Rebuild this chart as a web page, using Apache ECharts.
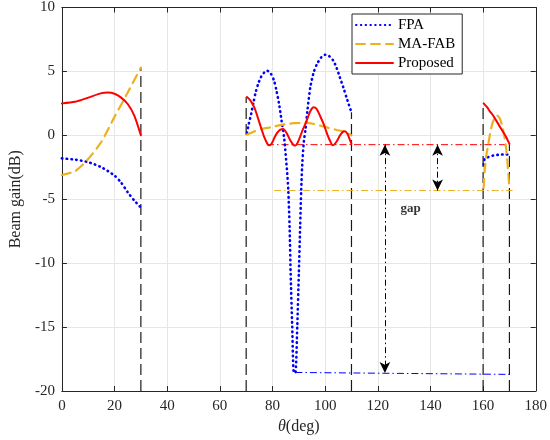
<!DOCTYPE html>
<html>
<head>
<meta charset="utf-8">
<script src="https://cdn.jsdelivr.net/npm/echarts@6/dist/echarts.min.js"></script>
<style>
  html, body { margin: 0; padding: 0; background: #fff; }
  #chart { width: 550px; height: 440px; }
</style>
</head>
<body>
<div id="chart"></div>
<script>
// Axis ranges: [min, max, step]
const xRange = [0, 180, 20];
const yRange = [-20, 10, 5];

// Beam gain (dB) versus angle, three angular sectors per scheme
const fpaSec1 = [[0,-1.8],[5,-1.9],[10,-2.1],[15,-2.5],[20,-3.15],[22.5,-3.7],[25,-4.45],[27.5,-5.1],[30,-5.65]];
const fpaSec2 = [[70.3,0.2],[71,0.9],[71.9,1.67],[72.8,2.6],[73.7,3.45],[74.6,4.05],[75.6,4.55],[76.8,4.9],[78,5.05],
  [79.3,4.85],[80.6,4.27],[81.5,3.5],[82.5,2.45],[83.4,1.2],[84.4,-0.16],[85,-1.5],[85.6,-3.0],[86,-4.3],[86.5,-7.2],
  [86.9,-10.8],[87.5,-15],[88.1,-18.55],[88.7,-18.55],[89.4,-15],[90,-10.8],[90.5,-7.2],[90.9,-4.3],[91.3,-2.3],
  [91.9,-0.5],[92.5,0.4],[93.3,2.0],[94.4,3.8],[95.6,4.9],[96.9,5.58],[98.5,6.1],[100,6.3],[101.5,6.2],[103.1,5.84],
  [104.4,5.25],[105.6,4.53],[106.9,3.75],[108.1,2.97],[109,2.4],[110,1.8]];
const fpaSec3 = [[160.2,-2.3],[160.6,-1.85],[162,-1.7],[164,-1.57],[166,-1.52],[168,-1.5],[170,-1.5]];

const mafSec1 = [[0,-3.1],[5,-2.8],[10,-1.85],[15,-0.5],[20,1.45],[25,3.35],[30,5.3]];
const mafSec2 = [[70.3,0.05],[73,0.3],[76,0.5],[79.4,0.63],[82.5,0.78],[85.6,0.89],[88,0.95],[91,0.97],[93.1,0.98],
  [95.5,0.9],[98.1,0.76],[101,0.6],[104.4,0.42],[106.9,0.31],[108.5,0.18],[110,0.0]];
const mafSec3 = [[160.2,-4.1],[160.6,-2.8],[161.2,-1.6],[161.8,-0.9],[163.1,0.6],[164.2,1.3],[165.3,1.55],[166.4,1.3],
  [167.5,0.55],[168.7,-0.94],[169.4,-2.5],[170,-4.2]];

const propSec1 = [[0,2.5],[5,2.62],[10,2.95],[15,3.3],[17.5,3.36],[20,3.25],[22.5,2.95],[25,2.45],[27.5,1.55],[30,0]];
const propSec2 = [[70.3,3.0],[71.5,2.75],[73.1,2.19],[74.4,1.4],[75.6,0.63],[76.8,-0.1],[78.1,-0.67],[78.8,-0.78],
  [79.8,-0.6],[80.8,-0.15],[81.9,0.23],[83,0.45],[84.1,0.5],[85.3,0.2],[86.8,-0.41],[88,-0.75],[88.7,-0.8],[89.6,-0.55],
  [90.6,-0.05],[91.5,0.45],[92.5,0.89],[93.5,1.45],[94.5,1.95],[95.6,2.19],[96.8,2.05],[98,1.55],[99.4,0.89],[100.6,0.2],
  [101.8,-0.4],[102.9,-0.78],[104.3,-0.5],[105.6,-0.02],[106.6,0.25],[107.5,0.31],[108.5,0.1],[109.3,-0.3],[110,-0.67]];
const propSec3 = [[160.2,2.5],[161.5,2.2],[162.5,1.9],[163.8,1.55],[165,1.15],[166.3,0.7],[167.5,0.3],[168.8,-0.15],[170,-0.67]];

// Minimum gain levels across the covered sectors
const propMin = [[77.9,-0.73],[170.2,-0.73]];
const mafMin  = [[80.6,-4.32],[171.2,-4.32]];
const fpaMin  = [[88.7,-18.55],[170,-18.7]];

// Sector edges: angle and top of the boundary line
const edgeX   = [30, 70, 110, 160, 170];
const edgeTop = [5.3, 3.0, 1.8, 2.5, -0.67];

// Gap arrows
const gapX      = [122.7, 142.7];
const gapTop    = [-0.73, -0.73];
const gapBottom = [-18.6, -4.32];
const gapLabel  = [132.5, -5.7];

const FONT = "'Liberation Serif', 'Times New Roman', serif";
const INK = '#262626';
const BLUE = '#0000ff', GOLD = '#EDB120', RED = '#ff0000';

function curve(name, data, color, type, width, z) {
  return {
    type: 'line', name, data, z,
    symbol: 'none', showSymbol: false, smooth: 0.25,
    lineStyle: { color, type, width, cap: 'round' },
    itemStyle: { color }, silent: true
  };
}
function plain(data, color, type, width, z) {
  return {
    type: 'line', data, z, symbol: 'none', showSymbol: false,
    lineStyle: { color, type, width }, silent: true
  };
}

const series = [];
[fpaSec1, fpaSec2, fpaSec3].forEach(d => series.push(curve('FPA', d, BLUE, [0.5, 4.3], 2.6, 3)));
[mafSec1, mafSec2, mafSec3].forEach(d => series.push(curve('MA-FAB', d, GOLD, [9, 6], 2.2, 4)));
[propSec1, propSec2, propSec3].forEach(d => series.push(curve('Proposed', d, RED, 'solid', 2, 5)));

edgeX.forEach((x, i) => series.push(plain([[x, yRange[0]], [x, edgeTop[i]]], '#1a1a1a', [11, 5], 1.2, 2)));

series.push(plain(propMin, RED, [7, 3, 1.5, 3], 1, 2));
series.push(plain(mafMin, GOLD, [7, 3, 1.5, 3], 1, 2));
series.push(plain(fpaMin, BLUE, [7, 3, 1.5, 3], 1, 2));

series.push({
  type: 'line', data: [], silent: true, z: 6,
  markLine: {
    silent: true, animation: false,
    symbol: ['arrow', 'arrow'], symbolSize: [8, 11],
    label: { show: false },
    lineStyle: { color: '#000', type: [6, 3, 1.5, 3], width: 1 },
    data: gapX.map((x, i) => [{ coord: [x, gapTop[i]] }, { coord: [x, gapBottom[i]] }])
  }
});

series.push({
  type: 'scatter', data: [gapLabel], symbolSize: 0, silent: true, z: 6,
  label: {
    show: true, position: 'inside', formatter: 'gap',
    fontFamily: FONT, fontWeight: 'bold', fontSize: 13, color: '#000'
  }
});

const axisCommon = {
  axisLine: { show: true, onZero: false, lineStyle: { color: INK, width: 1 } },
  axisTick: { show: true, inside: true, length: 5, lineStyle: { color: INK } },
};

const option = {
  animation: false,
  backgroundColor: '#fff',
  grid: { left: 57, right: 13, top: 7, bottom: 49, containLabel: false },
  legend: {
    orient: 'vertical', left: 352, top: 14,
    data: ['FPA', 'MA-FAB', 'Proposed'],
    itemWidth: 37, itemHeight: 12, itemGap: 3,
    padding: [3, 7, 3, 3],
    backgroundColor: '#fff', borderColor: INK, borderWidth: 1, borderRadius: 0,
    itemStyle: { opacity: 0 },
    textStyle: { fontFamily: FONT, fontSize: 15, color: '#000', lineHeight: 16 },
    selectedMode: false
  },
  xAxis: [
    Object.assign({
      type: 'value', min: xRange[0], max: xRange[1], interval: xRange[2],
      name: '{i|θ}(deg)', nameLocation: 'middle', nameGap: 27,
      nameTextStyle: { fontFamily: FONT, fontSize: 16, color: INK,
        rich: { i: { fontFamily: FONT, fontSize: 16, fontStyle: 'italic', color: INK } } },
      axisLabel: { fontFamily: FONT, fontSize: 15, color: INK, margin: 8 },
      splitLine: { show: true, lineStyle: { color: '#e6e6e6', width: 1 } }
    }, axisCommon),
    Object.assign({
      type: 'value', position: 'top', min: xRange[0], max: xRange[1], interval: xRange[2],
      axisLabel: { show: false }, splitLine: { show: false }
    }, axisCommon)
  ],
  yAxis: [
    Object.assign({
      type: 'value', min: yRange[0], max: yRange[1], interval: yRange[2],
      name: 'Beam gain(dB)', nameLocation: 'middle', nameGap: 33,
      nameTextStyle: { fontFamily: FONT, fontSize: 16, color: INK },
      axisLabel: { fontFamily: FONT, fontSize: 15, color: INK, margin: 7 },
      splitLine: { show: true, lineStyle: { color: '#e6e6e6', width: 1 } }
    }, axisCommon),
    Object.assign({
      type: 'value', position: 'right', min: yRange[0], max: yRange[1], interval: yRange[2],
      axisLabel: { show: false }, splitLine: { show: false }
    }, axisCommon)
  ],
  series
};

const chart = echarts.init(document.getElementById('chart'), null, { renderer: 'canvas' });
chart.setOption(option);
</script>
</body>
</html>
